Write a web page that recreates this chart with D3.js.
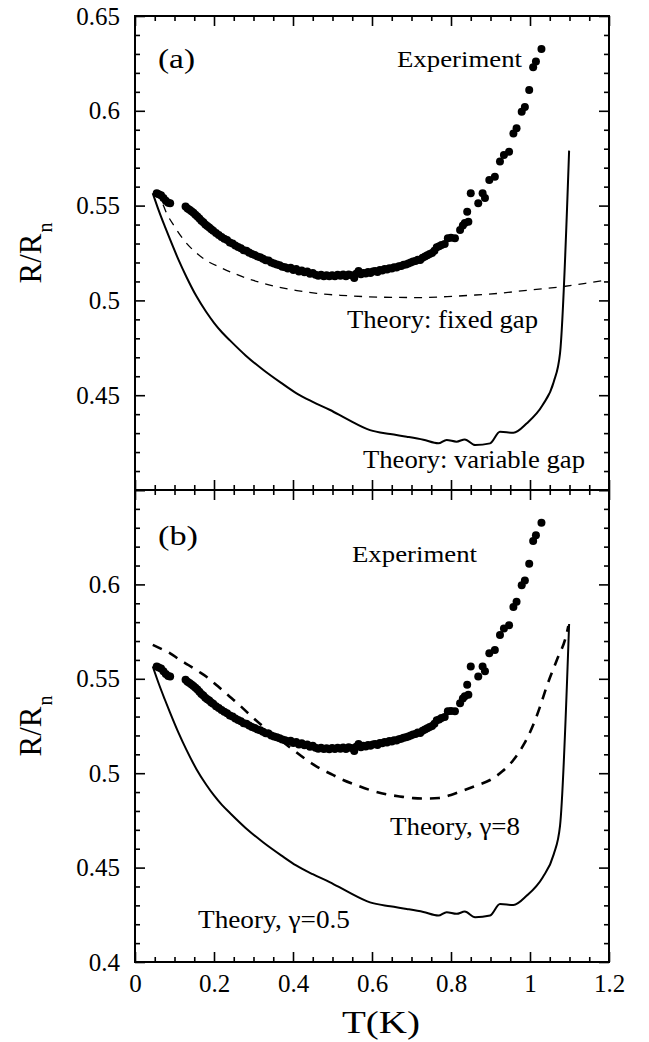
<!DOCTYPE html>
<html>
<head>
<meta charset="utf-8">
<script src="https://cdn.jsdelivr.net/npm/d3@7"></script>
<style>
  html, body { margin: 0; padding: 0; background: #fff; }
  svg text { font-family: "Liberation Serif", "Times New Roman", Times, serif; fill: #000; }
</style>
</head>
<body>
<svg id="chart" width="649" height="1042"></svg>
<script>
// ---------- data ----------
const expT = [0.055,0.060,0.066,0.072,0.078,0.084,0.089,
  0.128,0.133,0.138,0.143,0.148,0.153,0.158,0.163,0.168,0.173,0.178,0.183,0.188,0.193,0.198,
  0.205,0.212,0.219,0.226,0.233,0.240,0.247,0.254,0.261,0.268,0.275,0.282,0.289,0.296,
  0.303,0.310,0.317,0.324,0.331,0.338,0.345,0.352,0.359,0.366,0.373,0.380,0.387,0.394,
  0.401,0.408,0.415,0.422,0.429,0.436,0.443,0.450,0.457,0.464,0.471,0.478,0.485,0.492,0.499,
  0.506,0.513,0.520,0.527,0.534,0.541,0.548,0.555,0.560,0.566,0.572,0.578,0.584,0.590,0.596,
  0.602,0.608,0.614,0.620,0.626,0.632,0.638,0.644,0.650,0.656,0.662,0.668,0.674,0.680,0.686,
  0.692,0.698,0.704,0.710,0.716,0.722,0.728,0.734,0.740,0.746,0.752,0.758,0.764,0.770,0.776,
  0.784,0.792,0.800,0.810,0.823,0.830,0.835,0.844,0.841,0.850,0.869,0.880,0.886,0.897,0.911,
  0.924,0.934,0.947,0.958,0.966,0.979,0.987,0.998,1.008,1.015,1.029];
const expR = [0.5565,0.5560,0.5555,0.5540,0.5525,0.5515,0.5512,
  0.5495,0.5485,0.5478,0.5470,0.5462,0.5452,0.5443,0.5432,0.5420,0.5412,0.5400,0.5392,0.5385,0.5375,0.5368,
  0.5355,0.5345,0.5335,0.5325,0.5318,0.5305,0.5300,0.5290,0.5282,0.5275,0.5265,0.5262,0.5252,0.5245,
  0.5240,0.5232,0.5228,0.5220,0.5212,0.5210,0.5200,0.5195,0.5190,0.5185,0.5178,0.5175,0.5168,0.5172,
  0.5160,0.5165,0.5152,0.5158,0.5148,0.5152,0.5140,0.5145,0.5135,0.5130,0.5135,0.5128,0.5132,0.5127,0.5133,
  0.5128,0.5135,0.5130,0.5136,0.5128,0.5137,0.5133,0.5118,0.5140,0.5155,0.5138,0.5145,0.5142,0.5150,0.5145,
  0.5152,0.5155,0.5150,0.5160,0.5158,0.5165,0.5163,0.5170,0.5168,0.5175,0.5173,0.5180,0.5182,0.5188,0.5190,
  0.5195,0.5200,0.5205,0.5208,0.5215,0.5213,0.5225,0.5232,0.5238,0.5245,0.5250,0.5262,0.5280,0.5285,0.5292,
  0.5298,0.5328,0.5330,0.5328,0.5371,0.5395,0.5408,0.5415,0.5468,0.5565,0.5512,0.5565,0.5540,0.5635,0.5652,
  0.5732,0.5767,0.5784,0.5880,0.5908,0.5995,0.6020,0.6110,0.6230,0.6260,0.6326];

// Theory: fixed gap (panel a, thin dashed)
const fixedT = [0.050,0.070,0.080,0.100,0.127,0.150,0.181,0.215,0.250,0.300,0.360,0.410,0.460,0.520,0.580,0.650,0.720,0.790,0.850,0.920,1.000,1.080,1.140,1.200];
const fixedR = [0.557,0.551,0.546,0.539,0.531,0.526,0.521,0.5175,0.5143,0.5105,0.5072,0.5052,0.5037,0.5027,0.502,0.5016,0.5015,0.502,0.5027,0.5037,0.5055,0.5072,0.509,0.511];

// Theory: variable gap (panel a) = Theory, gamma=0.5 (panel b), solid
const varT = [0.045,0.060,0.075,0.089,0.110,0.130,0.156,0.180,0.200,0.220,0.241,0.280,0.325,0.370,0.409,0.450,0.494,0.536,0.595,0.646,0.688,0.730,0.768,0.789,0.814,0.835,0.861,0.899,0.924,0.958,0.992,1.032,1.060,1.076,1.099];
const varR = [0.5565,0.5475,0.5393,0.5320,0.5215,0.5125,0.5020,0.4940,0.4882,0.4832,0.4788,0.4710,0.4633,0.4565,0.451,0.4465,0.4422,0.4375,0.4316,0.4295,0.4281,0.4265,0.4246,0.4264,0.4255,0.4267,0.4237,0.4246,0.4307,0.4302,0.4352,0.4448,0.457,0.4721,0.579];

// Theory, gamma=8 (panel b, thick dashed)
const g8T = [0.045,0.070,0.089,0.110,0.135,0.160,0.181,0.210,0.240,0.265,0.287,0.320,0.360,0.401,0.430,0.460,0.495,0.527,0.560,0.595,0.637,0.670,0.705,0.740,0.770,0.800,0.831,0.865,0.899,0.930,0.958,0.985,1.008,1.025,1.042,1.068,1.093,1.097];
const g8R = [0.568,0.5655,0.5635,0.5605,0.5573,0.554,0.5511,0.546,0.5405,0.536,0.5317,0.5255,0.519,0.5123,0.5077,0.5035,0.4997,0.4964,0.4937,0.4911,0.4888,0.4877,0.4868,0.4866,0.4869,0.4885,0.4908,0.4935,0.4964,0.501,0.507,0.5155,0.5255,0.535,0.5458,0.560,0.5741,0.578];

// ticks
const xMajor = [0, 0.2, 0.4, 0.6, 0.8, 1, 1.2];
const yLabelsTop = [0.45, 0.5, 0.55, 0.6, 0.65];
const yLabelsBot = [0.4, 0.45, 0.5, 0.55, 0.6];
const yMajorAll = [0.4, 0.45, 0.5, 0.55, 0.6, 0.65];

// ---------- layout ----------
const svg = d3.select("#chart");
const L = 135, R = 609;
const panels = [
  { top: 16, bottom: 490, labels: yLabelsTop, name: "a" },
  { top: 490, bottom: 962, labels: yLabelsBot, name: "b" }
];
const x = d3.scaleLinear().domain([0, 1.2]).range([L, R]);
const xMinor = d3.range(0, 1.2001, 0.05).filter(v => Math.abs(v / 0.2 - Math.round(v / 0.2)) > 1e-6);
const yMinor = d3.range(0.4, 0.6501, 0.01).filter(v => Math.abs(v / 0.05 - Math.round(v / 0.05)) > 1e-6);

function styleAxis(g) {
  g.select(".domain").remove();
  g.selectAll(".tick line").attr("stroke", "#000").attr("stroke-width", 1.6);
  g.selectAll("text").style("font-family", "'Liberation Serif', 'Times New Roman', serif").attr("fill", "#000");
}

panels.forEach((p, i) => {
  const y = d3.scaleLinear().domain([0.4, 0.65]).range([p.bottom, p.top]);
  p.y = y;
  const isBottom = i === 1;

  svg.append("g").attr("transform", `translate(0,${p.bottom})`)
    .call(d3.axisBottom(x).tickValues(xMajor).tickSizeInner(-10).tickSizeOuter(0).tickPadding(7)
      .tickFormat(isBottom ? d3.format("~g") : () => ""))
    .call(styleAxis)
    .call(g => g.selectAll("text").attr("font-size", 25).attr("dy", "0.92em"));
  svg.append("g").attr("transform", `translate(0,${p.bottom})`)
    .call(d3.axisBottom(x).tickValues(xMinor).tickSizeInner(-5).tickSizeOuter(0).tickFormat(() => ""))
    .call(styleAxis);
  svg.append("g").attr("transform", `translate(0,${p.top})`)
    .call(d3.axisTop(x).tickValues(xMajor).tickSizeInner(-10).tickSizeOuter(0).tickFormat(() => ""))
    .call(styleAxis);
  svg.append("g").attr("transform", `translate(0,${p.top})`)
    .call(d3.axisTop(x).tickValues(xMinor).tickSizeInner(-5).tickSizeOuter(0).tickFormat(() => ""))
    .call(styleAxis);

  svg.append("g").attr("transform", `translate(${L},0)`)
    .call(d3.axisLeft(y).tickValues(yMajorAll).tickSizeInner(-10).tickSizeOuter(0).tickPadding(15)
      .tickFormat(v => p.labels.some(l => Math.abs(l - v) < 1e-9) ? d3.format("~g")(v) : ""))
    .call(styleAxis)
    .call(g => g.selectAll("text").attr("font-size", 25));
  svg.append("g").attr("transform", `translate(${L},0)`)
    .call(d3.axisLeft(y).tickValues(yMinor).tickSizeInner(-5).tickSizeOuter(0).tickFormat(() => ""))
    .call(styleAxis);
  svg.append("g").attr("transform", `translate(${R},0)`)
    .call(d3.axisRight(y).tickValues(yMajorAll).tickSizeInner(-10).tickSizeOuter(0).tickFormat(() => ""))
    .call(styleAxis);
  svg.append("g").attr("transform", `translate(${R},0)`)
    .call(d3.axisRight(y).tickValues(yMinor).tickSizeInner(-5).tickSizeOuter(0).tickFormat(() => ""))
    .call(styleAxis);

  svg.append("rect").attr("x", L).attr("y", p.top).attr("width", R - L).attr("height", p.bottom - p.top)
    .attr("fill", "none").attr("stroke", "#000").attr("stroke-width", 2);

  const yl = svg.append("text")
    .attr("transform", `translate(41,${(p.top + p.bottom) / 2}) rotate(-90)`)
    .attr("text-anchor", "middle").attr("font-size", 31);
  yl.append("tspan").text("R/R");
  yl.append("tspan").text("n").attr("font-size", 20).attr("dy", 11).attr("dx", 1);
});

// ---------- marks ----------
const lineGen = (y) => d3.line().x(d => x(d[0])).y(d => y(d[1]));
const expData = expT.map((t, i) => [t, expR[i]]);
const fixedData = fixedT.map((t, i) => [t, fixedR[i]]);
const varData = varT.map((t, i) => [t, varR[i]]);
const g8Data = g8T.map((t, i) => [t, g8R[i]]);

const pa = panels[0], pb = panels[1];

// panel a
svg.append("path").datum(fixedData).attr("d", lineGen(pa.y).curve(d3.curveMonotoneX))
  .attr("fill", "none").attr("stroke", "#000").attr("stroke-width", 1.3).attr("stroke-dasharray", "8,7");
svg.append("path").datum(varData).attr("d", lineGen(pa.y).curve(d3.curveMonotoneX))
  .attr("fill", "none").attr("stroke", "#000").attr("stroke-width", 2);
svg.append("g").selectAll("circle").data(expData).join("circle")
  .attr("cx", d => x(d[0])).attr("cy", d => pa.y(d[1])).attr("r", 4).attr("fill", "#000");

// panel b
svg.append("path").datum(g8Data).attr("d", lineGen(pb.y).curve(d3.curveMonotoneX))
  .attr("fill", "none").attr("stroke", "#000").attr("stroke-width", 2.6).attr("stroke-dasharray", "10,8");
svg.append("path").datum(varData).attr("d", lineGen(pb.y).curve(d3.curveMonotoneX))
  .attr("fill", "none").attr("stroke", "#000").attr("stroke-width", 2);
svg.append("g").selectAll("circle").data(expData).join("circle")
  .attr("cx", d => x(d[0])).attr("cy", d => pb.y(d[1])).attr("r", 4).attr("fill", "#000");

// ---------- annotations ----------
function label(txt, xx, yy, size, len) {
  const t = svg.append("text").attr("x", xx).attr("y", yy).attr("font-size", size).text(txt);
  if (len) t.attr("textLength", len).attr("lengthAdjust", "spacingAndGlyphs");
  return t;
}
label("(a)", 158, 68, 27, 37);
label("Experiment", 397, 67, 24, 125);
label("Theory: fixed gap", 347, 328, 25, 191);
label("Theory: variable gap", 363, 468, 25, 222);
label("(b)", 158, 545, 27, 40);
label("Experiment", 352, 562, 24, 125);
label("Theory, γ=8", 390, 835, 25, 130);
label("Theory, γ=0.5", 198, 928, 25, 152);

svg.append("text").attr("x", 381).attr("y", 1033).attr("text-anchor", "middle")
  .attr("font-size", 31).attr("textLength", 78).attr("lengthAdjust", "spacingAndGlyphs").text("T(K)");
</script>
</body>
</html>
